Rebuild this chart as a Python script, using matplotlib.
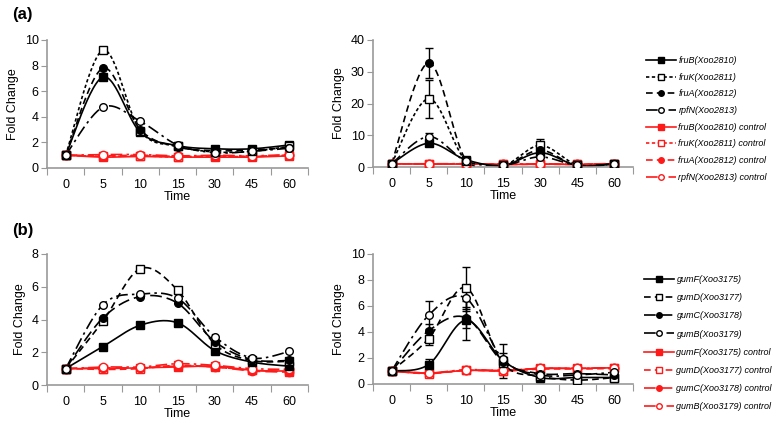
import numpy as np
import matplotlib.pyplot as plt
from matplotlib.lines import Line2D

plt.rcParams['font.family'] = ['Liberation Sans', 'DejaVu Sans']

# Time points (categorical x axis)
times = ["0", "5", "10", "15", "30", "45", "60"]

# (a) left: fold change
fruB_a = [1.0, 7.1, 2.8, 1.75, 1.5, 1.5, 1.8]
fruK_a = [1.0, 9.2, 2.9, 1.7, 1.25, 1.3, 1.7]
fruA_a = [1.0, 7.8, 3.0, 1.65, 1.35, 1.4, 1.6]
rpfN_a = [1.0, 4.75, 3.65, 1.8, 1.2, 1.3, 1.55]
fruB_a_ctl = [1.0, 0.85, 0.9, 0.85, 0.85, 0.85, 0.95]
fruK_a_ctl = [1.0, 0.9, 0.95, 0.85, 0.9, 0.9, 1.0]
fruA_a_ctl = [1.0, 0.95, 1.0, 0.9, 0.95, 0.9, 1.0]
rpfN_a_ctl = [1.0, 1.05, 1.05, 0.95, 1.0, 0.95, 1.05]

# (a) right: fold change with error
fruB_r = [1.0, 7.5, 2.3, 0.5, 4.5, 0.5, 1.0]
fruK_r = [1.0, 21.5, 2.0, 0.4, 6.8, 0.7, 1.0]
fruA_r = [1.0, 32.8, 2.2, 0.4, 5.3, 0.3, 1.0]
rpfN_r = [1.0, 9.6, 1.9, 0.5, 3.2, 0.5, 1.0]
fruB_r_err = [0, 1.0, 0.3, 0.1, 0.8, 0.1, 0.1]
fruK_r_err = [0, 6.0, 0.4, 0.1, 2.0, 0.2, 0.1]
fruA_r_err = [0, 4.7, 0.4, 0.1, 1.0, 0.1, 0.1]
rpfN_r_err = [0, 1.0, 0.3, 0.1, 0.5, 0.1, 0.1]
fruB_r_ctl = [1.0, 0.9, 0.95, 0.8, 0.9, 0.8, 1.05]
fruK_r_ctl = [1.0, 0.95, 1.0, 0.85, 0.95, 0.85, 1.05]
fruA_r_ctl = [1.0, 0.9, 1.0, 0.8, 0.9, 0.8, 1.0]
rpfN_r_ctl = [1.0, 1.0, 1.05, 0.9, 1.0, 0.9, 1.1]

# (b) left
gumF_b = [1.0, 2.35, 3.65, 3.8, 2.1, 1.4, 1.15]
gumD_b = [1.0, 3.9, 7.1, 5.8, 2.5, 1.5, 1.45]
gumC_b = [1.0, 4.1, 5.4, 5.0, 2.65, 1.55, 1.5]
gumB_b = [1.0, 4.9, 5.55, 5.3, 2.95, 1.65, 2.05]
gumF_b_ctl = [1.0, 1.0, 1.05, 1.1, 1.15, 0.9, 0.85]
gumD_b_ctl = [1.0, 0.95, 1.0, 1.2, 1.1, 0.9, 0.8]
gumC_b_ctl = [1.0, 1.05, 1.05, 1.15, 1.1, 0.85, 0.8]
gumB_b_ctl = [1.0, 1.1, 1.1, 1.3, 1.2, 1.0, 0.95]

# (b) right
gumF_r = [1.0, 1.5, 4.9, 1.8, 0.5, 0.5, 0.5]
gumD_r = [1.0, 3.5, 7.4, 1.6, 0.6, 0.3, 0.5]
gumC_r = [1.0, 4.1, 5.1, 1.7, 0.8, 0.8, 0.7]
gumB_r = [1.0, 5.3, 6.6, 1.9, 0.7, 0.7, 0.9]
gumF_r_err = [0, 0.4, 1.5, 1.3, 0.3, 0.2, 0.2]
gumD_r_err = [0, 0.5, 1.6, 0.5, 0.2, 0.2, 0.2]
gumC_r_err = [0, 0.5, 0.8, 0.4, 0.2, 0.2, 0.2]
gumB_r_err = [0, 1.1, 1.0, 0.5, 0.2, 0.2, 0.2]
gumF_r_ctl = [1.0, 0.82, 1.05, 1.0, 1.2, 1.2, 1.25]
gumD_r_ctl = [1.0, 0.8, 1.05, 1.0, 1.15, 1.15, 1.2]
gumC_r_ctl = [1.0, 0.85, 1.05, 1.05, 1.2, 1.2, 1.25]
gumB_r_ctl = [1.0, 0.85, 1.1, 1.05, 1.2, 1.2, 1.25]

labels_a = ["fruB(Xoo2810)", "fruK(Xoo2811)", "fruA(Xoo2812)", "rpfN(Xoo2813)"]
labels_b = ["gumF(Xoo3175)", "gumD(Xoo3177)", "gumC(Xoo3178)", "gumB(Xoo3179)"]

styles_a = [("-", "s", True), ((0, (2, 1.5)), "s", False),
            ((0, (4, 2.5)), "o", True), ((0, (7, 2.5, 1.5, 2.5)), "o", False)]
styles_b = [("-", "s", True), ((0, (4, 2.5)), "s", False),
            ((0, (7, 3)), "o", True), ((0, (7, 2.5, 1.5, 2.5)), "o", False)]

RED = "#ff1a1a"


def smooth(y, n=30):
    # excel-style smoothed line (catmull-rom bezier) through the points
    y = np.asarray(y, float)
    x = np.arange(len(y), dtype=float)
    px, py = [], []
    t = np.linspace(0, 1, n)
    for i in range(len(y) - 1):
        x0, y0 = x[i], y[i]
        x3, y3 = x[i + 1], y[i + 1]
        xm, ym = (x[i - 1], y[i - 1]) if i > 0 else (x0, y0)
        xp, yp = (x[i + 2], y[i + 2]) if i + 2 < len(y) else (x3, y3)
        x1, y1 = x0 + (x3 - xm) / 6, y0 + (y3 - ym) / 6
        x2, y2 = x3 - (xp - x0) / 6, y3 - (yp - y0) / 6
        bx = (1-t)**3*x0 + 3*(1-t)**2*t*x1 + 3*(1-t)*t**2*x2 + t**3*x3
        by = (1-t)**3*y0 + 3*(1-t)**2*t*y1 + 3*(1-t)*t**2*y2 + t**3*y3
        px.extend(bx)
        py.extend(by)
    return px, py


def draw_series(ax, y, style, color, ms, err=None):
    ls, mk, filled = style
    sx, sy = smooth(y)
    ax.plot(sx, sy, color=color, ls=ls, lw=1.2, zorder=2)
    if err is not None:
        ax.errorbar(range(len(y)), y, yerr=err, fmt="none", ecolor="black",
                    elinewidth=1, capsize=3, capthick=1, zorder=3)
    ax.plot(range(len(y)), y, ls="none", marker=mk, ms=ms, color=color,
            mfc=color if filled else "white", mec=color, mew=1, zorder=4)


def style_axes(ax, ymax, ystep):
    ax.set_xlim(-0.5, len(times) - 0.5)
    ax.set_ylim(0, ymax)
    ax.set_yticks(np.arange(0, ymax + 0.01, ystep))
    ax.set_xticks(np.arange(-0.5, len(times), 1.0))
    ax.set_xticklabels([])
    ax.set_xticks(range(len(times)), minor=True)
    ax.set_xticklabels(times, minor=True)
    ax.tick_params(axis="x", which="major", length=5, color="#999999", direction="out")
    ax.tick_params(axis="x", which="minor", length=0, pad=8, labelsize=9)
    ax.tick_params(axis="y", length=4, color="#999999", labelsize=9, pad=2)
    for s in ["top", "right"]:
        ax.spines[s].set_visible(False)
    for s in ["left", "bottom"]:
        ax.spines[s].set_color("#999999")
        ax.spines[s].set_linewidth(1.2)
    ax.set_ylabel("Fold Change", fontsize=9, labelpad=4)
    ax.set_xlabel("Time", fontsize=9, labelpad=0)


fig = plt.figure(figsize=(7.77, 4.21), dpi=100)
W, H = 777, 421


def add_ax(x0, x1, ytop, ybot):
    return fig.add_axes([x0 / W, 1 - ybot / H, (x1 - x0) / W, (ybot - ytop) / H])


ax1 = add_ax(47, 308, 40, 168)
ax2 = add_ax(373, 633, 40, 167)
ax3 = add_ax(47, 308, 254, 385)
ax4 = add_ax(373, 633, 254, 384)

# panel (a)
for y, st in zip([fruB_a_ctl, fruK_a_ctl, fruA_a_ctl, rpfN_a_ctl], styles_a):
    draw_series(ax1, y, st, RED, 6)
for y, st in zip([fruB_a, fruK_a, fruA_a, rpfN_a], styles_a):
    draw_series(ax1, y, st, "black", 5.5)
style_axes(ax1, 10, 2)

for y, st in zip([fruB_r_ctl, fruK_r_ctl, fruA_r_ctl, rpfN_r_ctl], styles_a):
    draw_series(ax2, y, st, RED, 6)
for y, e, st in zip([fruB_r, fruK_r, fruA_r, rpfN_r],
                    [fruB_r_err, fruK_r_err, fruA_r_err, rpfN_r_err], styles_a):
    draw_series(ax2, y, st, "black", 5.5, e)
style_axes(ax2, 40, 10)

# panel (b)
for y, st in zip([gumF_b_ctl, gumD_b_ctl, gumC_b_ctl, gumB_b_ctl], styles_b):
    draw_series(ax3, y, st, RED, 6)
for y, st in zip([gumF_b, gumD_b, gumC_b, gumB_b], styles_b):
    draw_series(ax3, y, st, "black", 5.5)
style_axes(ax3, 8, 2)

for y, st in zip([gumF_r_ctl, gumD_r_ctl, gumC_r_ctl, gumB_r_ctl], styles_b):
    draw_series(ax4, y, st, RED, 6)
for y, e, st in zip([gumF_r, gumD_r, gumC_r, gumB_r],
                    [gumF_r_err, gumD_r_err, gumC_r_err, gumB_r_err], styles_b):
    draw_series(ax4, y, st, "black", 5.5, e)
style_axes(ax4, 10, 2)


def legend_handles(styles):
    hs = []
    for color in ["black", RED]:
        for ls, mk, filled in styles:
            hs.append(Line2D([], [], color=color, ls=ls, lw=1.2, marker=mk, ms=4,
                             mfc=color if filled else "white", mec=color, mew=1))
    return hs


for labels, styles, x0, ytop, sp in [(labels_a, styles_a, 646, 56, 0.85),
                                     (labels_b, styles_b, 644, 275, 1.02)]:
    names = labels + [l + " control" for l in labels]
    fig.legend(legend_handles(styles), names, loc="upper left",
               bbox_to_anchor=(x0 / W, 1 - ytop / H), frameon=False,
               handlelength=3.3, handletextpad=0.3,
               labelspacing=sp, borderpad=0, borderaxespad=0,
               prop={"style": "italic", "size": 6.5})

fig.text(12 / W, 1 - 14 / H, "(a)", fontsize=12, fontweight="bold", va="center")
fig.text(12 / W, 1 - 230 / H, "(b)", fontsize=12, fontweight="bold", va="center")

fig.savefig("out.png", dpi=100)
